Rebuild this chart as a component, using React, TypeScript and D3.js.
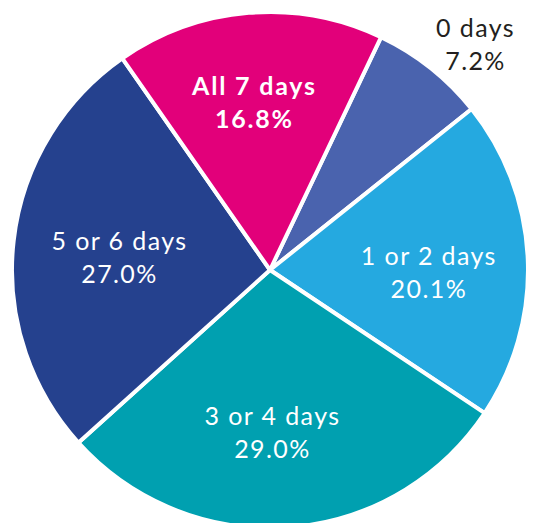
import React from "react";
import * as d3 from "d3";

const categories = ["0 days", "1 or 2 days", "3 or 4 days", "5 or 6 days", "All 7 days"];
const values = [7.2, 20.1, 29.0, 27.0, 16.8];
const colors = ["#4A63AE", "#25A9E0", "#00A0B0", "#25418E", "#E2007A"];
const labelColors = ["#231F20", "#FFFFFF", "#FFFFFF", "#FFFFFF", "#FFFFFF"];
const labelWeights = [400, 400, 400, 400, 700];
const labelRadius = [300, 159, 171, 150, 165];
const labelShift = [[19, 2], [0, 2], [-10, -15.5], [-1.5, -3.3], [-2, -10.5]];

const W = 535;
const H = 523;
const cx = 270;
const cy = 270;
const R = 258;
const startDeg = 25.5;

export default function App() {
  const pie = d3
    .pie<number>()
    .sort(null)
    .value((d) => d)
    .startAngle((startDeg * Math.PI) / 180)
    .endAngle(((startDeg + 360) * Math.PI) / 180);
  const arcs = pie(values);
  const arc = d3.arc<d3.PieArcDatum<number>>().innerRadius(0).outerRadius(R);
  const fmt = d3.format(".1f");

  return (
    <svg width={W} height={H} style={{ position: "absolute", left: 0, top: 0 }}>
      <g transform={`translate(${cx},${cy})`}>
        {arcs.map((a, i) => (
          <path key={i} d={arc(a) || ""} fill={colors[i]} stroke="#fff" strokeWidth={4} strokeLinejoin="round" />
        ))}
        {arcs.map((a, i) => {
          const la = d3.arc<d3.PieArcDatum<number>>().innerRadius(labelRadius[i]).outerRadius(labelRadius[i]);
          const [x0, y0] = la.centroid(a);
          const x = x0 + labelShift[i][0];
          const y = y0 + labelShift[i][1];
          return (
            <text
              key={"t" + i}
              x={x}
              y={y}
              fill={labelColors[i]}
              fontWeight={labelWeights[i]}
              fontFamily="Lato, 'Open Sans', sans-serif"
              fontSize={25}
              letterSpacing={labelWeights[i] > 500 ? 1.8 : 1.4}
              textAnchor="middle"
            >
              <tspan x={x} y={y}>{categories[i]}</tspan>
              <tspan x={x} dy={33}>{fmt(values[i])}%</tspan>
            </text>
          );
        })}
      </g>
    </svg>
  );
}
